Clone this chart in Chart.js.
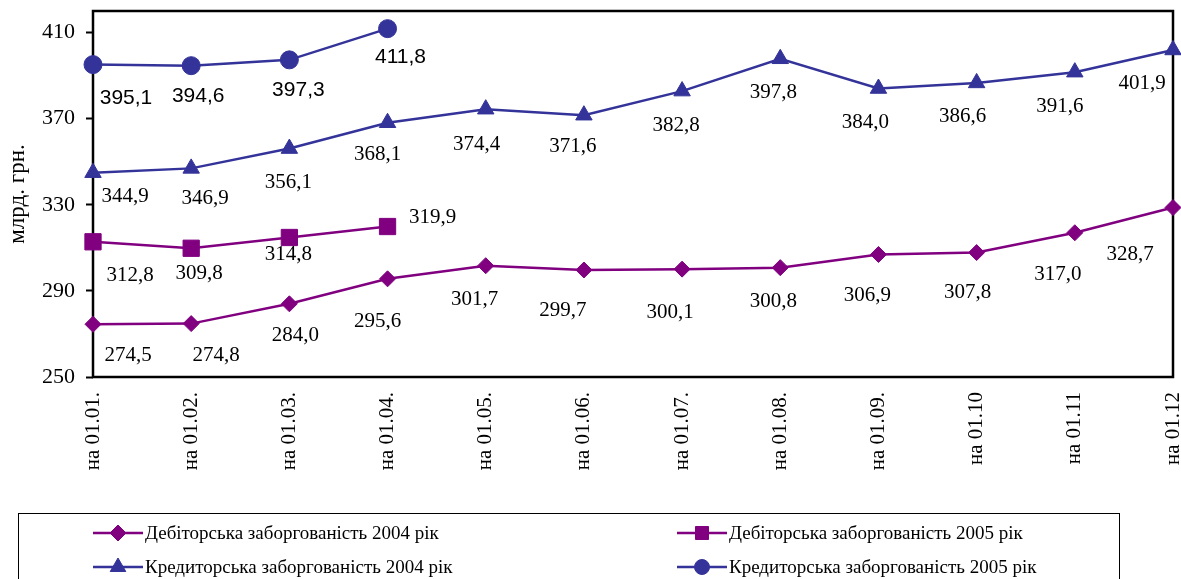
<!DOCTYPE html>
<html>
<head>
<meta charset="utf-8">
<script src="https://cdn.jsdelivr.net/npm/chart.js@4/dist/chart.umd.min.js"></script>
<style>
html,body{margin:0;padding:0;background:#fff;}
#c{display:block;}
</style>
</head>
<body>
<canvas id="c" width="1181" height="579"></canvas>
<script>
// ---- data ----
const categories = ['на 01.01.', 'на 01.02.', 'на 01.03.', 'на 01.04.', 'на 01.05.', 'на 01.06.', 'на 01.07.', 'на 01.08.', 'на 01.09.', 'на 01.10', 'на 01.11', 'на 01.12'];
const debit2004 = [274.5, 274.8, 284.0, 295.6, 301.7, 299.7, 300.1, 300.8, 306.9, 307.8, 317.0, 328.7];
const debit2005 = [312.8, 309.8, 314.8, 319.9];
const credit2004 = [344.9, 346.9, 356.1, 368.1, 374.4, 371.6, 382.8, 397.8, 384.0, 386.6, 391.6, 401.9];
const credit2005 = [395.1, 394.6, 397.3, 411.8];
const yTicks = [250, 290, 330, 370, 410];
const seriesNames = ['Дебіторська заборгованість 2004 рік', 'Дебіторська заборгованість 2005 рік', 'Кредиторська заборгованість 2004 рік', 'Кредиторська заборгованість 2005 рік'];
const yTitle = 'млрд. грн.';

// ---- label placement (style) ----
const offD04 = [[35,31],[25,32],[6,32],[-10,43],[-11,34],[-21,40],[-12,43],[-7,34],[-11,41],[-9,40],[-17,42],[-43,47]];
const offD05 = [[37,34],[8,25],[-1,17],[45,-9]];
const offC04 = [[32,24],[14,30],[-1,34],[-10,32],[-9,35],[-11,31],[-6,34],[-7,34],[-13,34],[-14,34],[-15,34],[-31,34]];
const offC05 = [[33,34],[7,31],[9,30],[13,29]];

const PURPLE = '#800080';
const BLUE = '#333399';
const SERIF = "'Liberation Serif', 'Times New Roman', serif";
const SANS = "'Liberation Sans', Arial, sans-serif";

const fmt = v => v.toFixed(1).replace('.', ',');

const labelPlugin = {
  id: 'valueLabels',
  afterDatasetsDraw(chart) {
    const ctx = chart.ctx;
    const cfg = [
      {off: offD04, font: '21px ' + SERIF},
      {off: offD05, font: '21px ' + SERIF},
      {off: offC04, font: '21px ' + SERIF},
      {off: offC05, font: '21px ' + SANS}
    ];
    ctx.save();
    ctx.fillStyle = '#000';
    ctx.textAlign = 'center';
    ctx.textBaseline = 'middle';
    chart.data.datasets.forEach((ds, di) => {
      const meta = chart.getDatasetMeta(di);
      ctx.font = cfg[di].font;
      meta.data.forEach((pt, i) => {
        const o = cfg[di].off[i] || [0, 30];
        ctx.fillText(fmt(ds.data[i]), pt.x + o[0], pt.y + o[1]);
      });
    });
    ctx.restore();
  }
};

const framePlugin = {
  id: 'frame',
  beforeDatasetsDraw(chart) {
    const a = chart.chartArea;
    const ctx = chart.ctx;
    ctx.save();
    ctx.strokeStyle = '#000';
    ctx.lineWidth = 2.5;
    ctx.strokeRect(a.left, a.top, a.right - a.left, a.bottom - a.top);
    ctx.restore();
  }
};

function drawMarker(ctx, style, x, y, color) {
  ctx.save();
  ctx.fillStyle = color;
  ctx.strokeStyle = color;
  ctx.lineWidth = 1;
  ctx.beginPath();
  if (style === 'rectRot') {
    const r = 8;
    ctx.moveTo(x, y - r); ctx.lineTo(x + r, y); ctx.lineTo(x, y + r); ctx.lineTo(x - r, y); ctx.closePath();
  } else if (style === 'rect') {
    const s = 6.5;
    ctx.rect(x - s, y - s, 2 * s, 2 * s);
  } else if (style === 'triangle') {
    const r = 9;
    ctx.moveTo(x, y - r); ctx.lineTo(x + r * 0.866, y + r * 0.5); ctx.lineTo(x - r * 0.866, y + r * 0.5); ctx.closePath();
  } else {
    ctx.arc(x, y, 7.5, 0, Math.PI * 2);
  }
  ctx.fill();
  ctx.stroke();
  ctx.restore();
}

const legendPlugin = {
  id: 'boxLegend',
  afterDraw(chart) {
    const ctx = chart.ctx;
    ctx.save();
    ctx.strokeStyle = '#000';
    ctx.lineWidth = 1;
    ctx.strokeRect(18.5, 513.5, 1101, 80);
    const items = [
      {x: 93, y: 533, ds: 0},
      {x: 677, y: 533, ds: 1},
      {x: 93, y: 567, ds: 2},
      {x: 677, y: 567, ds: 3}
    ];
    items.forEach(it => {
      const ds = chart.data.datasets[it.ds];
      ctx.strokeStyle = ds.borderColor;
      ctx.lineWidth = 2.5;
      ctx.beginPath();
      ctx.moveTo(it.x, it.y);
      ctx.lineTo(it.x + 50, it.y);
      ctx.stroke();
      drawMarker(ctx, ds.pointStyle, it.x + 25, it.y, ds.borderColor);
      ctx.fillStyle = '#000';
      ctx.font = '19px ' + SERIF;
      ctx.textAlign = 'left';
      ctx.textBaseline = 'middle';
      ctx.fillText(ds.label, it.x + 52, it.y + 1);
    });
    ctx.restore();
  }
};

function mkDs(label, data, color, style, radius) {
  return {
    label, data,
    borderColor: color,
    backgroundColor: color,
    pointBackgroundColor: color,
    pointBorderColor: color,
    borderWidth: 2.5,
    pointStyle: style,
    pointRadius: radius,
    pointHoverRadius: radius,
    pointBorderWidth: 1,
    tension: 0,
    clip: false
  };
}

function zeroPad(s) { s.paddingLeft = 0; s.paddingRight = 0; s.paddingTop = 0; s.paddingBottom = 0; }

new Chart(document.getElementById('c'), {
  type: 'line',
  data: {
    labels: categories,
    datasets: [
      mkDs(seriesNames[0], debit2004, PURPLE, 'rectRot', 8),
      mkDs(seriesNames[1], debit2005, PURPLE, 'rect', 11.5),
      mkDs(seriesNames[2], credit2004, BLUE, 'triangle', 9.5),
      mkDs(seriesNames[3], credit2005, BLUE, 'circle', 9)
    ]
  },
  options: {
    responsive: false,
    animation: false,
    events: [],
    layout: {autoPadding: false, padding: {top: 11, right: 8, left: 0, bottom: 0}},
    plugins: {legend: {display: false}, tooltip: {enabled: false}},
    scales: {
      x: {
        offset: false,
        grid: {display: false, drawTicks: false},
        border: {display: false},
        ticks: {
          autoSkip: false, minRotation: 90, maxRotation: 90, padding: 15,
          color: '#000', font: {family: SERIF, size: 21}
        },
        afterFit(s) { s.height = 202; zeroPad(s); }
      },
      y: {
        min: 250, max: 420,
        afterBuildTicks(axis) { axis.ticks = yTicks.map(v => ({value: v})); },
        grid: {drawOnChartArea: false, drawTicks: true, tickLength: 7, tickWidth: 2, tickColor: '#000', color: '#000'},
        border: {display: false},
        ticks: {padding: 11, color: '#000', font: {family: SERIF, size: 22}},
        title: {display: true, text: yTitle, color: '#000', font: {family: SERIF, size: 23}, padding: {top: 4, bottom: 0}},
        afterFit(s) { s.width = 93; zeroPad(s); }
      }
    }
  },
  plugins: [framePlugin, labelPlugin, legendPlugin]
});
</script>
</body>
</html>
